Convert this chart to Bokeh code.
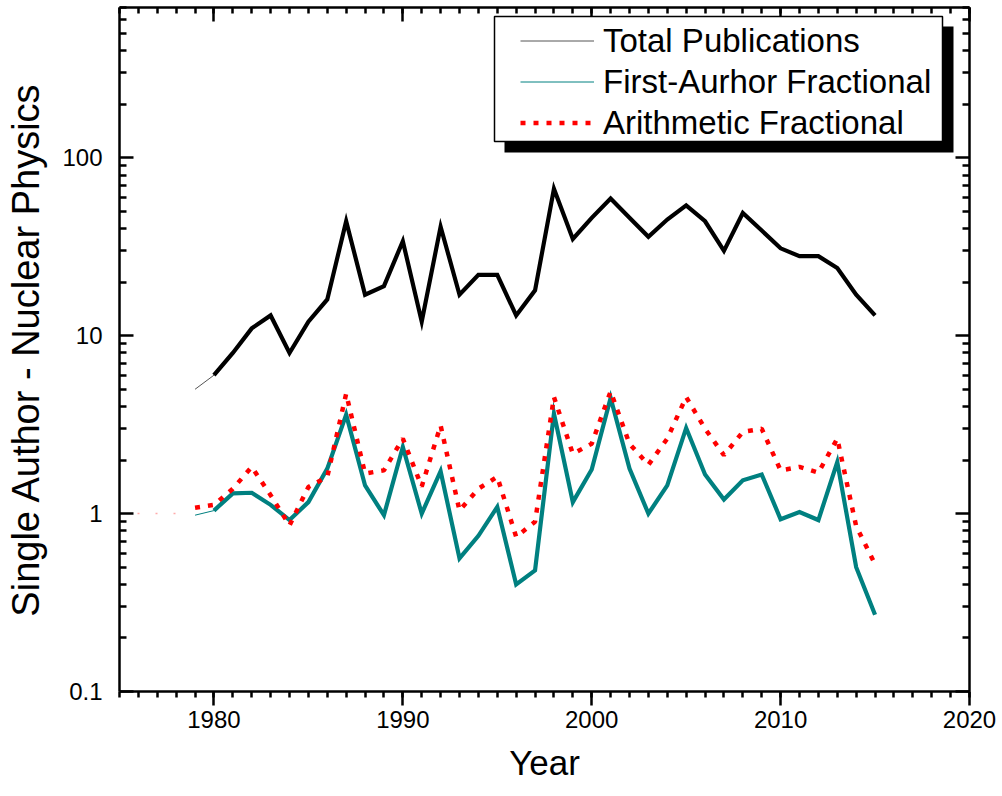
from bokeh.plotting import figure
from bokeh.models import (LogAxis, LinearAxis, FixedTicker, Legend, LegendItem,
                          BoxAnnotation, Range1d, CustomJSTickFormatter)
from bokeh.embed import file_html
from bokeh.resources import INLINE
import math

# ---------------- data ----------------
years = list(range(1979, 2016))
total_pubs = [5, 6, 8, 11, 13, 8, 12, 16, 44, 17, 19, 34, 12, 41, 17, 22, 22, 13, 18,
              67, 35, 46, 59, 46, 36, 45, 54, 44, 30, 49, 39, 31, 28, 28, 24, 17, 13]
first_author = [0.98, 1.04, 1.3, 1.31, 1.12, 0.92, 1.16, 1.79, 3.6, 1.44, 0.98, 2.37, 1.0,
                1.73, 0.56, 0.75, 1.09, 0.4, 0.48, 3.65, 1.16, 1.77, 4.47, 1.79, 1.0, 1.44,
                3.03, 1.66, 1.2, 1.54, 1.66, 0.93, 1.02, 0.92, 1.95, 0.5, 0.27]
arithmetic = [1.08, 1.12, 1.38, 1.83, 1.27, 0.86, 1.41, 1.61, 4.72, 1.68, 1.75, 2.64, 1.42,
              3.13, 1.04, 1.38, 1.61, 0.74, 0.9, 4.52, 2.17, 2.47, 4.86, 2.47, 1.88, 2.64,
              4.52, 3.0, 2.13, 2.88, 3.0, 1.75, 1.83, 1.7, 2.64, 0.85, 0.52]
arith_early_years = [1975, 1976, 1977, 1978]
arith_early = [1.0, 1.0, 1.0, 1.0]

series_labels = ["Total Publications", "First-Aurhor Fractional", "Arithmetic Fractional"]
x_major = [1980, 1990, 2000, 2010, 2020]
y_major = [0.1, 1, 10, 100]

X0, X1 = 1975, 2020
Y0, Y1 = 0.1, 700

FONT = "Liberation Sans"
TEAL = "#008080"
RED = "#ff0000"

W, H = 997, 794
ML, MR, MT, MB = 119, 28, 7, 103

p = figure(width=W, height=H, output_backend="svg", toolbar_location=None,
           x_range=Range1d(X0, X1), y_range=Range1d(Y0, Y1), y_axis_type="log",
           min_border_left=ML, min_border_right=MR, min_border_top=MT, min_border_bottom=MB)
p.outline_line_color = None
p.grid.visible = False
p.background_fill_color = "white"

# ---------------- series ----------------
thin_black = p.line(years[:2], total_pubs[:2], line_color="#555555", line_width=1)
p.line(years[1:], total_pubs[1:], line_color="black", line_width=4.2, line_join="miter")

thin_teal = p.line(years[:2], first_author[:2], line_color=TEAL, line_width=1)
p.line(years[1:], first_author[1:], line_color=TEAL, line_width=4.2, line_join="miter")

p.line(arith_early_years, arith_early, line_color="#ffaaaa", line_width=1.5, line_dash="2 16")
red = p.line(years, arithmetic, line_color=RED, line_width=4.5, line_dash="5 8")

# ---------------- axes ----------------
x_ticker = FixedTicker(ticks=x_major, minor_ticks=list(range(X0, X1 + 1)))
y_minor = [m * 10 ** e for e in (-1, 0, 1, 2) for m in range(2, 10)]
y_ticker = FixedTicker(ticks=y_major, minor_ticks=y_minor)
fmt = CustomJSTickFormatter(code="return String(Math.round(tick*1000)/1000);")
blank = CustomJSTickFormatter(code="return '';")

def style_axis(ax):
    ax.axis_line_color = "black"
    ax.axis_line_width = 2.5
    ax.major_tick_line_color = "black"
    ax.major_tick_line_width = 2.5
    ax.minor_tick_line_color = "black"
    ax.minor_tick_line_width = 2.5
    ax.major_label_text_font = FONT
    ax.major_label_text_color = "black"
    ax.axis_label_text_font = FONT
    ax.axis_label_text_font_style = "normal"
    ax.axis_label_text_color = "black"

xa = p.xaxis[0]
xa.ticker = x_ticker
style_axis(xa)
xa.major_tick_in, xa.major_tick_out = 0, 14
xa.minor_tick_in, xa.minor_tick_out = 0, 6
xa.major_label_text_font_size = "24px"
xa.major_label_standoff = 5
xa.axis_label = "Year"
xa.axis_label_text_font_size = "35px"
xa.axis_label_standoff = 12

ya = p.yaxis[0]
ya.ticker = y_ticker
ya.formatter = fmt
style_axis(ya)
ya.major_tick_in, ya.major_tick_out = 14, 0
ya.minor_tick_in, ya.minor_tick_out = 7, 0
ya.major_label_text_font_size = "24px"
ya.major_label_standoff = 17
ya.axis_label = "Single Author - Nuclear Physics"
ya.axis_label_text_font_size = "38px"
ya.axis_label_standoff = 12

top = LinearAxis(ticker=x_ticker, formatter=blank)
style_axis(top)
top.major_tick_in, top.major_tick_out = 14, 0
top.minor_tick_in, top.minor_tick_out = 6, 0
top.major_label_text_font_size = "2px"
top.major_label_standoff = 0
p.add_layout(top, "above")

right = LogAxis(ticker=y_ticker, formatter=blank)
style_axis(right)
right.major_tick_in, right.major_tick_out = 14, 0
right.minor_tick_in, right.minor_tick_out = 7, 0
right.major_label_text_font_size = "2px"
right.major_label_standoff = 0
p.add_layout(right, "right")

# ---------------- legend (with drop shadow) ----------------
FW, FH = W - ML - MR, H - MT - MB
def fx(px):
    return X0 + px / 850.0 * (X1 - X0)
def fy(py):
    lo, hi = math.log10(Y0), math.log10(Y1)
    return 10 ** (hi - py / 684.0 * (hi - lo))

shadow = BoxAnnotation(left=fx(385), right=fx(834), top=fy(19), bottom=fy(145),
                       fill_color="black", fill_alpha=1, line_alpha=0)
box = BoxAnnotation(left=fx(375), right=fx(823), top=fy(9), bottom=fy(134),
                    fill_color="white", fill_alpha=1, line_color="black", line_width=1.5,
                    line_alpha=1)
p.add_layout(shadow)
p.add_layout(box)

legend = Legend(items=[LegendItem(label=series_labels[0], renderers=[thin_black]),
                       LegendItem(label=series_labels[1], renderers=[thin_teal]),
                       LegendItem(label=series_labels[2], renderers=[red])],
                location=(round(401 * FW / 850), round(FH - 13.5 - 123)),
                padding=0, margin=0, spacing=0,
                glyph_width=74, glyph_height=41, label_height=41, label_standoff=9,
                label_text_font=FONT, label_text_font_size="33px",
                label_text_color="black",
                border_line_alpha=0, background_fill_alpha=0)
p.add_layout(legend)

open("out.html", "w").write(file_html(p, INLINE))
